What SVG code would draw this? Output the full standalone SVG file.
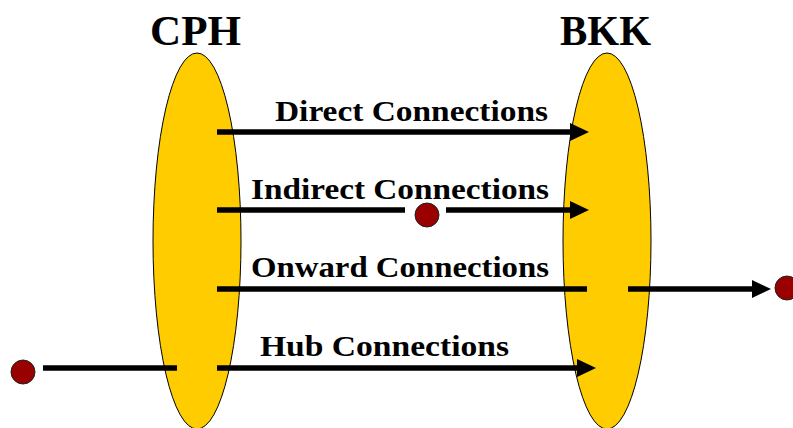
<svg xmlns="http://www.w3.org/2000/svg" width="793" height="428" viewBox="0 0 793 428">
<style>
.hub{fill:#FFCC00;stroke:#000;stroke-width:1}
.lbl{font-family:"Liberation Serif","Times New Roman",serif;font-weight:bold;fill:#000}
.big{font-size:43px}
.med{font-size:30px}
.ln{stroke:#000;stroke-width:5.5;fill:none}
.dot{fill:#990000;stroke:#222;stroke-width:1}
</style>
<defs>
<marker id="ah" markerUnits="userSpaceOnUse" markerWidth="20" markerHeight="20" refX="0" refY="9" orient="auto">
<path d="M0,0 L19,9 L0,18 Z" fill="#000"/>
</marker>
</defs>
<rect width="793" height="428" fill="#fff"/>
<g id="CPH">
<ellipse class="hub" cx="197" cy="241" rx="44" ry="188"/>
<text class="lbl big" x="150" y="45" textLength="91" lengthAdjust="spacingAndGlyphs">CPH</text>
</g>
<g id="BKK">
<ellipse class="hub" cx="607" cy="241" rx="44" ry="188"/>
<text class="lbl big" x="560" y="45" textLength="91" lengthAdjust="spacingAndGlyphs">BKK</text>
</g>
<g id="dot-indirect"><circle class="dot" cx="427" cy="215" r="12"/></g>
<g id="dot-onward"><circle class="dot" cx="787" cy="288" r="12"/></g>
<g id="dot-hub"><circle class="dot" cx="23" cy="372" r="12"/></g>
<g id="connectors">
<line class="ln" x1="217" y1="132" x2="570" y2="132" marker-end="url(#ah)"/>
<line class="ln" x1="217" y1="210" x2="405" y2="210"/>
<line class="ln" x1="446" y1="210" x2="570" y2="210" marker-end="url(#ah)"/>
<line class="ln" x1="217" y1="289" x2="587" y2="289"/>
<line class="ln" x1="628" y1="289" x2="752" y2="289" marker-end="url(#ah)"/>
<line class="ln" x1="43" y1="368" x2="177" y2="368"/>
<line class="ln" x1="217" y1="368" x2="577" y2="368" marker-end="url(#ah)"/>
</g>
<g id="labels">
<text class="lbl med" x="275" y="121" textLength="273" lengthAdjust="spacingAndGlyphs">Direct Connections</text>
<text class="lbl med" x="251" y="199" textLength="298" lengthAdjust="spacingAndGlyphs">Indirect Connections</text>
<text class="lbl med" x="251" y="277" textLength="298" lengthAdjust="spacingAndGlyphs">Onward Connections</text>
<text class="lbl med" x="260" y="356" textLength="249" lengthAdjust="spacingAndGlyphs">Hub Connections</text>
</g>
</svg>
